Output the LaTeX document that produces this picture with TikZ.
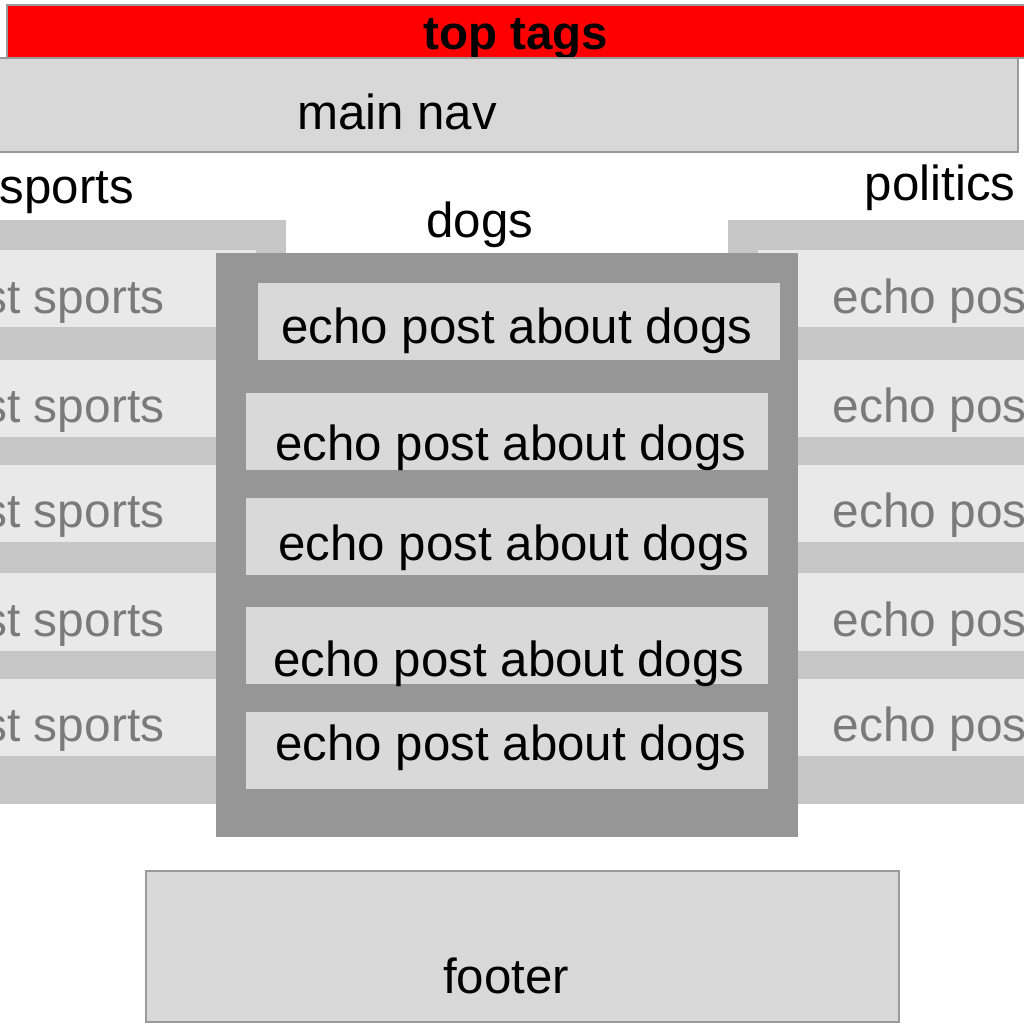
\documentclass[tikz,border=0pt]{standalone}
\usepackage{fontspec}
\setmainfont{Liberation Sans}
\usetikzlibrary{positioning}

\definecolor{tagred}{HTML}{FF0000}
\definecolor{edgegray}{HTML}{9A9A9A}
\definecolor{navgray}{HTML}{D8D8D8}
\definecolor{colgray}{HTML}{C6C6C6}
\definecolor{postgray}{HTML}{E9E9E9}
\definecolor{doggray}{HTML}{969696}
\definecolor{dpostgray}{HTML}{D9D9D9}
\definecolor{fadetext}{HTML}{7A7A7A}

\begin{document}
\begin{tikzpicture}[
  x=0.01cm, y=-0.01cm,
  lbl/.style={anchor=base, inner sep=0pt, font=\fontsize{14}{16}\selectfont, text=black},
  flbl/.style={lbl, font=\fontsize{13.6}{16}\selectfont, text=fadetext},
  tlbl/.style={anchor=base, inner sep=0pt, font=\fontsize{13.5}{16}\selectfont\bfseries, text=black},
  bar/.style={fill=navgray, draw=edgegray, line width=0.4pt}
]
\useasboundingbox (0,0) rectangle (1024,1024);
\clip (0,0) rectangle (1024,1024);

%% side columns (sports left, politics right)
\fill[colgray] (-20,220) rectangle (286,804);
\fill[colgray] (728,220) rectangle (1044,804);

\foreach \i/\ya/\yb/\yt in {1/250/327/313, 2/360/437/422, 3/465/542/527, 4/573/651/636, 5/679/756/741}{
  \fill[postgray] (-20,\ya) rectangle (256,\yb);
  \fill[postgray] (758,\ya) rectangle (1044,\yb);
  \node[flbl, anchor=base east] (sp\i)  at (165,\yt) {echo post sports};
  \node[flbl, anchor=base west] (pol\i) at (832,\yt) {echo post politics};
}

%% dogs container
\fill[doggray] (216,253) rectangle (798,837);

\fill[dpostgray] (258,283) rectangle (780,360);
\fill[dpostgray] (246,393) rectangle (768,470);
\fill[dpostgray] (246,498) rectangle (768,575);
\fill[dpostgray] (246,607) rectangle (768,684);
\fill[dpostgray] (246,712) rectangle (768,789);

\node[lbl] (dp1) at (517,343) {echo post about dogs};
\node[lbl] (dp2) at (511,460) {echo post about dogs};
\node[lbl] (dp3) at (514,560) {echo post about dogs};
\node[lbl] (dp4) at (509,676) {echo post about dogs};
\node[lbl] (dp5) at (511,760) {echo post about dogs};

%% column titles
\node[lbl, anchor=base west] (sports)   at (-1,203)  {sports};
\node[lbl, anchor=base east] (politics) at (1016,200) {politics};
\node[lbl] (dogs) at (480,237) {dogs};

%% top tags + main nav (nav overlaps the tag bar)
\filldraw[fill=tagred, draw=edgegray, line width=0.4pt] (7,5) rectangle (1040,58);
\node[tlbl] (tags) at (516,50) {top tags};
\filldraw[bar] (-5,58) rectangle (1018,152);
\node[lbl] (nav) at (397,129) {main nav};

%% footer
\filldraw[bar] (146,871) rectangle (899,1022);
\node[lbl] (footer) at (506,993) {footer};

\end{tikzpicture}
\end{document}
